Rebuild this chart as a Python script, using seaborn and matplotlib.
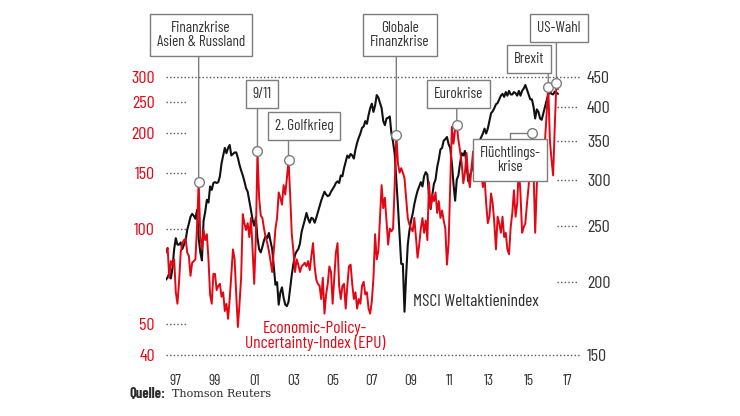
import matplotlib
matplotlib.use("Agg")
import matplotlib.pyplot as plt
import matplotlib.transforms as mtransforms
from matplotlib.ticker import NullLocator
import numpy as np
import pandas as pd
import seaborn as sns

# monthly values, Jan 1997 - Jan 2017
epu = [
    84, 87, 70, 79, 77, 80, 63, 58, 68, 84, 90, 92,
    93, 84, 82, 71, 78, 79, 80, 101, 140, 95, 86, 99,
    92, 96, 80, 62, 58, 72, 72, 64, 66, 67, 61, 63,
    55, 58, 52, 60, 72, 86, 80, 62, 49, 58, 70, 111,
    104, 99, 104, 94, 108, 86, 67, 94, 175, 125, 110, 108,
    100, 94, 90, 85, 79, 73, 85, 100, 108, 130, 125, 119,
    137, 128, 144, 164, 128, 96, 85, 73, 80, 77, 73, 76,
    77, 78, 76, 79, 74, 82, 90, 76, 69, 67, 66, 60,
    70, 54, 62, 67, 76, 73, 58, 70, 84, 90, 66, 60,
    66, 67, 56, 66, 76, 77, 67, 60, 63, 56, 60, 58,
    66, 68, 62, 63, 56, 54, 59, 70, 96, 80, 85, 108,
    137, 116, 125, 105, 89, 100, 98, 100, 137, 197, 160, 150,
    155, 150, 144, 125, 108, 103, 100, 98, 108, 94, 81, 89,
    100, 108, 97, 106, 92, 140, 116, 128, 122, 130, 112, 122,
    108, 114, 106, 100, 77, 90, 137, 209, 185, 205, 212, 190,
    176, 161, 139, 150, 173, 145, 135, 155, 175, 165, 145, 150,
    164, 150, 135, 145, 120, 104, 109, 129, 120, 104, 86, 109,
    104, 97, 109, 94, 97, 86, 83, 101, 112, 132, 109, 120,
    157, 129, 97, 101, 104, 120, 136, 164, 200, 153, 97, 136,
    181, 146, 160, 164, 188, 230, 280, 190, 165, 147, 210, 287,
    275,
]

msci = [
    202, 204, 207, 203, 212, 228, 238, 232, 232, 234, 228, 232,
    236, 246, 252, 259, 262, 260, 257, 266, 238, 225, 218, 255,
    264, 277, 274, 292, 288, 296, 297, 296, 297, 304, 320, 330,
    340, 333, 340, 344, 330, 332, 334, 334, 327, 318, 311, 305,
    298, 290, 286, 276, 266, 256, 250, 258, 238, 228, 225, 230,
    236, 240, 238, 243, 235, 228, 212, 198, 200, 183, 192, 196,
    188, 183, 182, 185, 195, 206, 215, 223, 226, 228, 233, 244,
    250, 256, 263, 257, 253, 258, 257, 253, 258, 264, 270, 276,
    281, 286, 283, 281, 282, 286, 289, 292, 296, 298, 296, 305,
    304, 314, 322, 330, 327, 332, 330, 326, 338, 347, 354, 360,
    368, 370, 378, 374, 387, 398, 405, 392, 402, 419, 415, 406,
    398, 378, 372, 382, 383, 385, 360, 348, 332, 300, 270, 240,
    215, 215, 178, 205, 232, 245, 255, 262, 272, 280, 287, 292,
    297, 292, 304, 309, 306, 282, 267, 282, 295, 300, 315, 325,
    338, 340, 350, 352, 355, 345, 340, 320, 295, 276, 300, 305,
    320, 333, 330, 336, 318, 298, 305, 310, 320, 325, 335, 348,
    350, 355, 360, 367, 360, 367, 378, 390, 393, 398, 404, 406,
    412, 418, 421, 416, 424, 418, 426, 420, 420, 424, 422, 418,
    426, 418, 426, 430, 436, 428, 420, 412, 412, 400, 382, 396,
    392, 382, 380, 390, 400, 410, 420, 425, 421, 420, 425, 423,
    421,
]

start_year = 1997
year_labels = ["97", "99", "01", "03", "05", "07", "09", "11", "13", "15", "17"]
label_years = [1997, 1999, 2001, 2003, 2005, 2007, 2009, 2011, 2013, 2015, 2017]
epu_ticks = [40, 50, 100, 150, 200, 250, 300]
msci_ticks = [150, 200, 250, 300, 350, 400, 450]

event_labels = ["Finanzkrise\nAsien & Russland", "9/11", "2. Golfkrieg",
                "Globale\nFinanzkrise", "Eurokrise", "Flüchtlings-\nkrise",
                "Brexit", "US-Wahl"]
event_months = [20, 56, 75, 141, 178, 224, 234, 239]

# box centres: (x in years, y as axes fraction)
box_pos = [(1998.79, 1.151), (2001.90, 0.939), (2004.04, 0.824), (2008.94, 1.151),
           (2011.90, 0.939), (2014.55, 0.701), (2015.52, 1.065), (2017.05, 1.176)]

RED = "#e30613"
DARK = "#2b2b2b"
GREY = "#7d7d7d"
COND = ["Barlow Condensed", "DejaVu Sans"]

sns.set_theme(style="white")
plt.rcParams["font.family"] = COND

df = pd.DataFrame({
    "t": start_year + np.arange(len(epu)) / 12.0,
    "epu": epu,
    "msci": msci,
})

fig = plt.figure(figsize=(7.4, 4.16), dpi=100)
ax = fig.add_axes([166 / 740, 1 - 355 / 416, 414 / 740, 278 / 416])
ax2 = ax.twinx()
ax.set_zorder(ax2.get_zorder() + 1)
ax.patch.set_visible(False)

sns.lineplot(data=df, x="t", y="msci", ax=ax2, color="#111111", lw=1.5, zorder=2)
sns.lineplot(data=df, x="t", y="epu", ax=ax, color=RED, lw=1.4, zorder=2)

for a, lo, hi, ticks in [(ax, 40, 300, epu_ticks), (ax2, 150, 450, msci_ticks)]:
    a.set_yscale("log")
    a.set_ylim(lo, hi)
    a.set_yticks(ticks)
    a.set_yticklabels([str(v) for v in ticks])
    a.yaxis.set_minor_locator(NullLocator())
    a.set_xlabel("")
    a.set_ylabel("")
    for s in a.spines.values():
        s.set_visible(False)

ax.set_xlim(1997, 2018.12)
ax.set_xticks([y + 0.5 for y in label_years])
ax.set_xticklabels(year_labels)
ax.tick_params(axis="x", length=0, pad=14, labelsize=11, labelcolor="#333333")
ax.tick_params(axis="y", length=0, pad=8, labelsize=13, labelcolor=RED)
ax2.tick_params(axis="y", length=0, pad=5, labelsize=13, labelcolor="#333333")

dot = dict(color="#555555", lw=1.0, ls=(0, (1, 1.6)), clip_on=False, zorder=1)
for v in epu_ticks:
    if v in (40, 300):
        ax.axhline(v, 0, 1, **dot)
    else:
        ax.axhline(v, 0, 0.051, **dot)
for v in msci_ticks[1:-1]:
    ax2.axhline(v, 0.944, 0.995, **dot)

mixed = mtransforms.blended_transform_factory(ax.transData, ax.transAxes)

# event annotations
for label, m, (bx, by) in zip(event_labels, event_months, box_pos):
    cx, cy = df["t"][m], df["epu"][m]
    if label.startswith("Flücht"):
        conn = "angle,angleA=90,angleB=0,rad=0"
        start = (bx, by)
    else:
        conn = "arc3,rad=0"
        start = (cx, by)
    ax.annotate("", xy=(cx, cy), xycoords="data", xytext=start,
                textcoords=("data", "axes fraction"), annotation_clip=False,
                arrowprops=dict(arrowstyle="-", color=GREY, lw=1.0,
                                shrinkA=0, shrinkB=0, connectionstyle=conn),
                zorder=3)
    ax.text(bx, by, label, transform=mixed, ha="center", va="center",
            fontsize=11, color="#333333", linespacing=1.0, zorder=4,
            clip_on=False,
            bbox=dict(boxstyle="square,pad=0.45", fc="white", ec=GREY, lw=1.0))
    ax.plot([cx], [cy], marker="o", ms=7, mfc="white", mec=GREY, mew=1.0,
            ls="none", zorder=5, clip_on=False)

ax.text(2004.6, 0.068, "Economic-Policy-\nUncertainty-Index (EPU)", transform=mixed,
        ha="center", va="center", fontsize=12.5, color=RED, linespacing=0.95)
ax.text(2009.6, 0.194, "MSCI Weltaktienindex", transform=mixed,
        ha="left", va="center", fontsize=12.5, color=DARK)

fig.text(130 / 740, 1 - 394 / 416, "Quelle:", fontsize=10.5, fontweight="bold",
         color=DARK, va="center", family=COND)
fig.text(172 / 740, 1 - 394 / 416, "Thomson Reuters", fontsize=8,
         color=DARK, va="center", family=["DejaVu Serif"])

fig.savefig("out.png", dpi=100)
